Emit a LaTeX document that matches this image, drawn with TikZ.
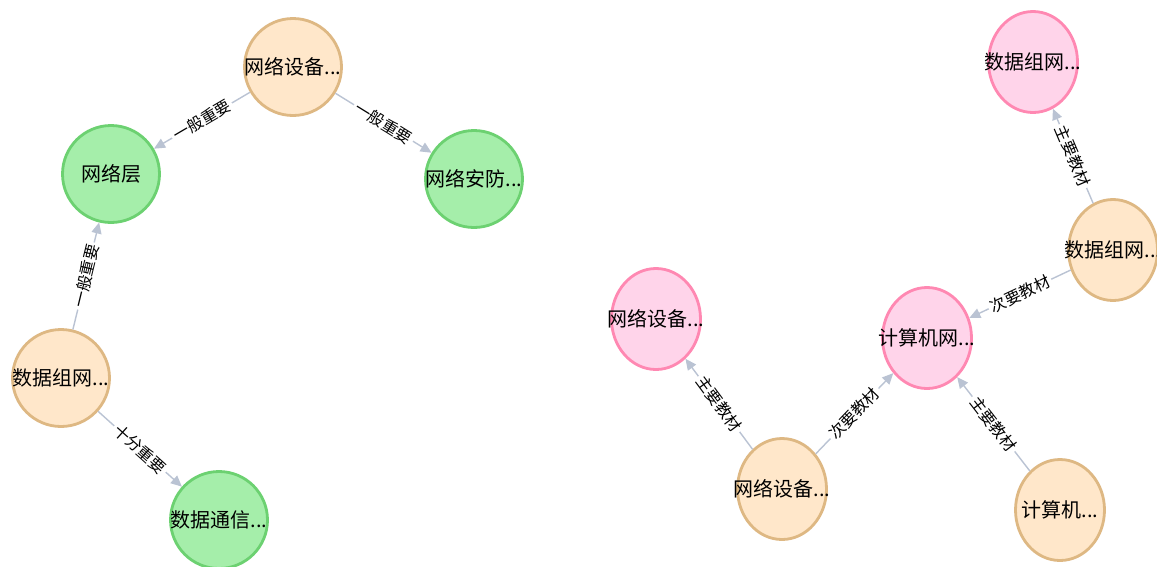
\documentclass[tikz,border=0pt]{standalone}
\usepackage{fontspec}
\newfontfamily\cjk{Noto Sans CJK SC}
\usetikzlibrary{shapes.geometric,arrows.meta}
\definecolor{ofill}{HTML}{FFE7CA}
\definecolor{oborder}{HTML}{DEB883}
\definecolor{gfill}{HTML}{A5EEAA}
\definecolor{gborder}{HTML}{6CD171}
\definecolor{pfill}{HTML}{FFD4EA}
\definecolor{pborder}{HTML}{FF88B2}
\definecolor{edgecol}{HTML}{BAC3D3}
\newcommand{\ntext}[1]{\makebox[0pt]{#1}}
\tikzset{
  nbase/.style={line width=2.8pt, inner sep=0pt, text=black,
    font=\cjk\fontsize{20}{20}\selectfont},
  lcirc/.style={nbase, circle, minimum size=97pt},
  rell/.style={nbase, ellipse, minimum width=89pt, minimum height=101pt},
  onode/.style={fill=ofill, draw=oborder},
  gnode/.style={fill=gfill, draw=gborder},
  pnode/.style={fill=pfill, draw=pborder},
  edge/.style={draw=edgecol, line width=1.4pt,
    -{Triangle[length=11pt,width=10pt,fill=edgecol]}},
  elabel/.style={sloped, fill=white, inner sep=2.5pt, text=black,
    font=\cjk\fontsize{16}{16}\selectfont}
}
\begin{document}
\begin{tikzpicture}[x=1pt,y=-1pt]
\useasboundingbox[fill=white] (0,0) rectangle (1157,566);
% left graph
\node[lcirc,onode] (A) at (293,67) {\ntext{网络设备...}};
\node[lcirc,gnode] (B) at (111,174) {\ntext{网络层}};
\node[lcirc,gnode] (C) at (474,179) {\ntext{网络安防...}};
\node[lcirc,onode] (D) at (61,378) {\ntext{数据组网...}};
\node[lcirc,gnode] (E) at (219,520) {\ntext{数据通信...}};
% right graph
\node[rell,pnode] (G) at (1033,62) {\ntext{数据组网...}};
\node[rell,onode] (F) at (1113,250) {\ntext{数据组网...}};
\node[rell,pnode] (J) at (656,319) {\ntext{网络设备...}};
\node[rell,pnode] (H) at (927,338) {\ntext{计算机网...}};
\node[rell,onode] (I) at (782,489) {\ntext{网络设备...}};
\node[rell,onode] (K) at (1060,510) {\ntext{计算机...}};
% edges
\draw[edge] (A) -- node[elabel] {一般重要} (B);
\draw[edge] (A) -- node[elabel] {一般重要} (C);
\draw[edge] (D) -- node[elabel] {一般重要} (B);
\draw[edge] (D) -- node[elabel] {十分重要} (E);
\draw[edge] (F) -- node[elabel] {主要教材} (G);
\draw[edge] (F) -- node[elabel] {次要教材} (H);
\draw[edge] (I) -- node[elabel] {主要教材} (J);
\draw[edge] (I) -- node[elabel] {次要教材} (H);
\draw[edge] (K) -- node[elabel] {主要教材} (H);
\end{tikzpicture}
\end{document}
